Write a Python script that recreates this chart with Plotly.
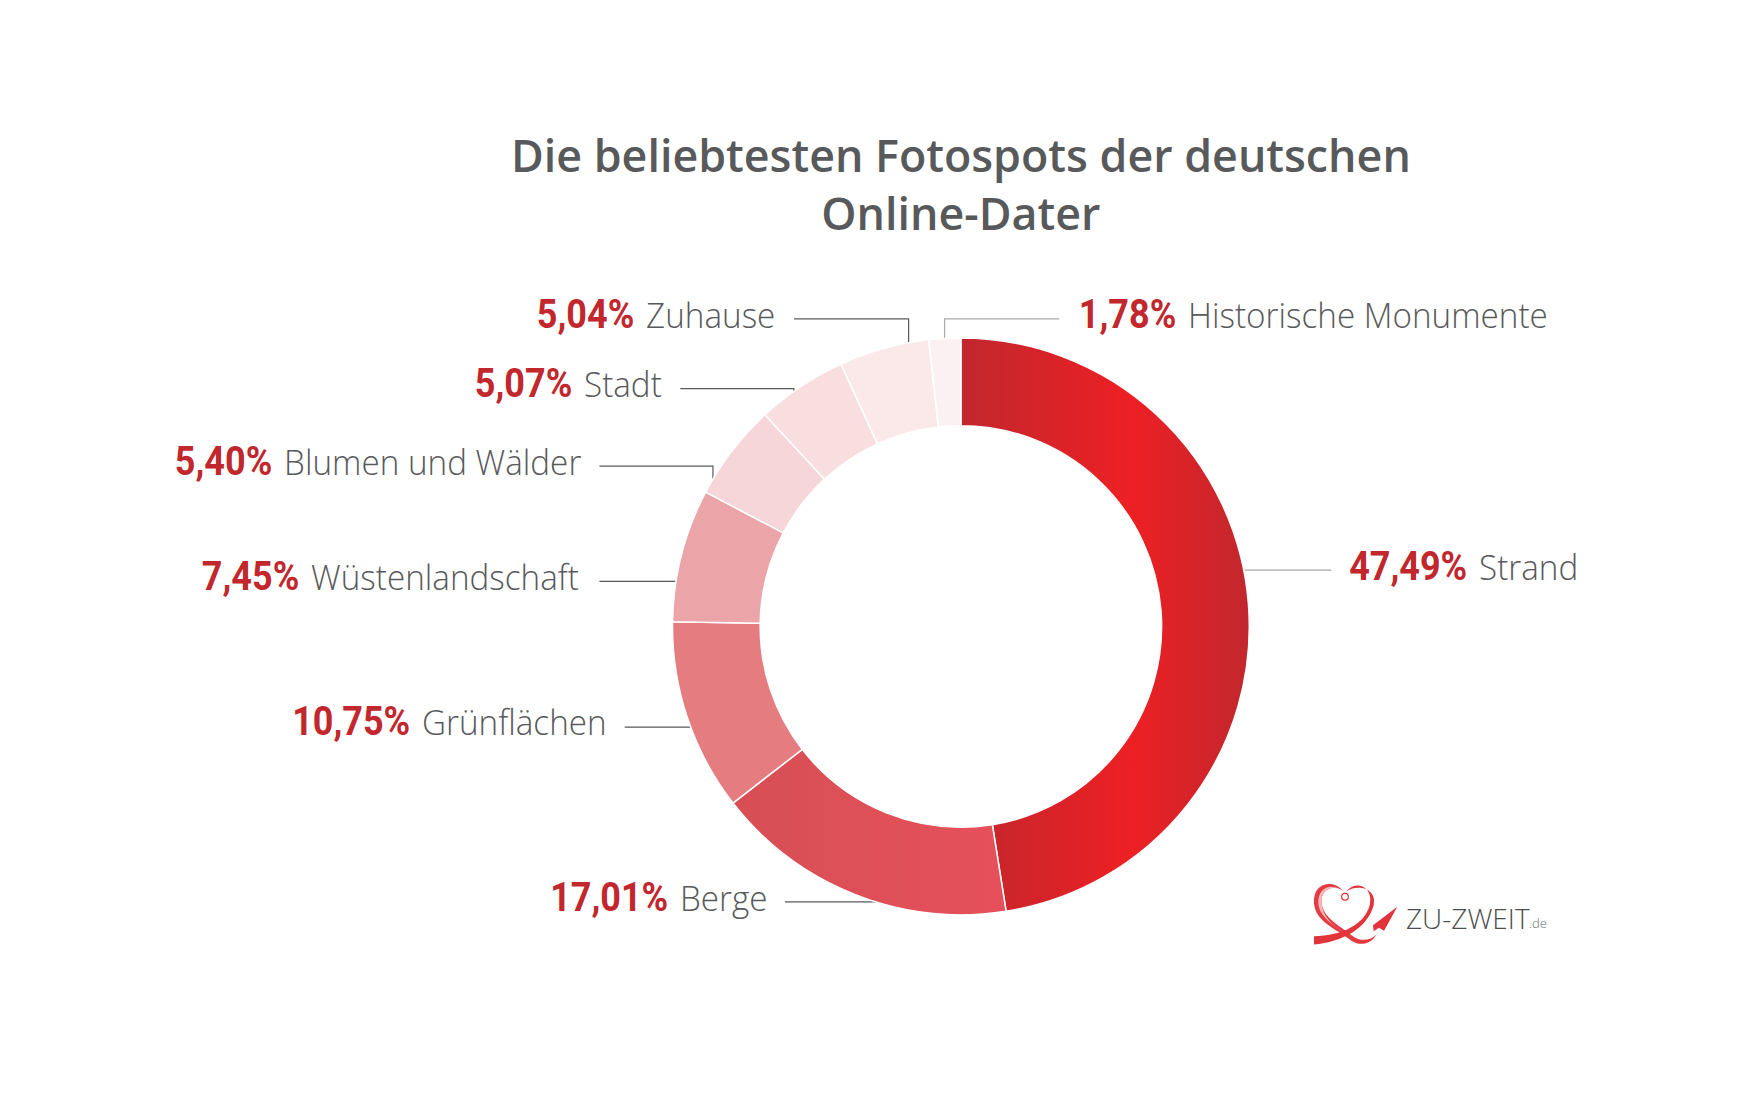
import plotly.graph_objects as go

W, H = 1754, 1096
S = W / 1560  # layout coordinates below were measured on a 1560-wide view
OX, OY = 11, 10  # page offset correction, in view units

categories = ["Strand", "Berge", "Grünflächen", "Wüstenlandschaft", "Blumen und Wälder", "Stadt", "Zuhause", "Historische Monumente"]
values = [47.49, 17.01, 10.75, 7.45, 5.40, 5.07, 5.04, 1.78]
percent_labels = ["47,49%", "17,01%", "10,75%", "7,45%", "5,40%", "5,07%", "5,04%", "1,78%"]
colors = ["#D9252A", "#E04F56", "#E57C80", "#EBA4A8", "#F6D6D9", "#F9DEE0", "#FBE9EA", "#FCF1F2"]

GREY = "#58595B"
RED = "#C1272D"

def X(p): return (p - OX) * S / W
def Y(p): return 1 - (p - OY) * S / H

label_pos = [(1312, 507), (601, 801), (371.5, 645), (273.5, 516), (249, 413), (516, 344), (571, 283), (1053, 283)]
leaders = [
    [(1109, 510), (1188, 510)],
    [(702, 805), (790, 805)],
    [(559.5, 649.5), (618, 649.5)],
    [(537, 520), (606, 520)],
    [(537, 417.5), (638, 417.5), (638, 431)],
    [(609, 348.5), (710, 348.5), (710, 352)],
    [(710, 286.5), (812, 286.5), (812, 307)],
    [(946, 286.5), (844, 286.5), (844, 304)],
]

cx, cy, r = 858.5, 560, 256.5

fig = go.Figure(go.Pie(
    labels=categories, values=values, sort=False, direction="clockwise", rotation=0,
    hole=0.696, textinfo="none", showlegend=False,
    marker=dict(colors=colors, line=dict(color="white", width=1.5)),
    domain=dict(x=[X(cx - r), X(cx + r)], y=[Y(cy + r), Y(cy - r)]),
))

annotations = []
for pct, name, (x, y) in zip(percent_labels, categories, label_pos):
    annotations.append(dict(text=pct, x=X(x - 1.5), y=Y(y), xref="paper", yref="paper", xanchor="right", yanchor="middle",
                            showarrow=False, font=dict(family="Roboto", size=40, color=RED, weight="bold")))
    annotations.append(dict(text=name, x=X(x + 5.5), y=Y(y), xref="paper", yref="paper", xanchor="left", yanchor="middle",
                            showarrow=False, font=dict(family="Open Sans", size=35, color=GREY, weight=300)))

# logo wordmark
annotations.append(dict(text="ZU-ZWEIT", x=X(1253), y=Y(819), xref="paper", yref="paper", xanchor="left", yanchor="middle",
                        showarrow=False, font=dict(family="Open Sans", size=28, color="#4D4D4F", weight=300)))
annotations.append(dict(text=".de", x=X(1362), y=Y(824), xref="paper", yref="paper", xanchor="left", yanchor="middle",
                        showarrow=False, font=dict(family="Open Sans", size=13, color="#6D6E71", weight=300)))

shapes = []
for pts in leaders:
    d = "M " + " L ".join(f"{X(a):.5f},{Y(b):.5f}" for a, b in pts)
    shapes.append(dict(type="path", path=d, xref="paper", yref="paper", layer="below",
                       line=dict(color="#A7A9AC" if pts[0][0] > cx else GREY, width=1.2)))

def LX(v): return (1250 + v / 3 - (OX - 3) * S) / W
def LY(v): return 1 - (850 + v / 3 - (OY - 3) * S) / H
def path(cmds):
    out = []
    for c in cmds:
        out.append(c[0] + " " + " ".join(f"{LX(c[i]):.5f},{LY(c[i+1]):.5f}" for i in range(1, len(c), 2)))
    return " ".join(out)

logo_parts = [
    ([("M", 285, 125), ("C", 255, 85, 190, 95, 195, 160), ("C", 200, 215, 260, 235, 305, 270),
      ("C", 330, 288, 365, 285, 383, 252), ("C", 365, 272, 335, 275, 312, 258),
      ("C", 270, 225, 225, 205, 218, 160), ("C", 212, 115, 260, 100, 285, 125), ("Z",)], "#E43A41"),
    ([("M", 285, 125), ("C", 250, 95, 205, 110, 208, 160), ("C", 212, 200, 250, 222, 280, 245),
      ("C", 255, 225, 222, 205, 218, 160), ("C", 212, 115, 260, 100, 285, 125), ("Z",)], "#F5B7BA"),
    ([("M", 195, 258), ("C", 280, 255, 345, 225, 362, 165), ("C", 375, 115, 325, 85, 290, 125),
      ("C", 325, 100, 385, 115, 374, 165), ("C", 355, 235, 280, 275, 195, 283), ("Z",)], "#E2343B"),
    ([("M", 445, 170), ("L", 372, 225), ("L", 374, 243), ("L", 390, 233), ("L", 405, 242), ("Z",)], "#E2343B"),
]
for cmds, col in logo_parts:
    shapes.append(dict(type="path", path=path(cmds), xref="paper", yref="paper", fillcolor=col, line=dict(width=0)))
shapes.append(dict(type="circle", xref="paper", yref="paper", x0=LX(278), x1=LX(298), y0=LY(150), y1=LY(130),
                   line=dict(color="#E2343B", width=1.2)))

fig.update_layout(
    width=W, height=H, margin=dict(l=0, r=0, t=0, b=0), paper_bgcolor="white",
    title=dict(text="Die beliebtesten Fotospots der deutschen<br>Online-Dater", x=X(cx), xanchor="center",
               y=Y(156), yanchor="middle", font=dict(family="Open Sans", size=44.8, color=GREY, weight=600)),
    annotations=annotations, shapes=shapes,
)

post = """
var gd = document.getElementById('{plot_id}');
var svg = gd.querySelector('svg.main-svg');
var NS = 'http://www.w3.org/2000/svg';
var defs = document.createElementNS(NS, 'defs');
function grad(id, stops) {
  var g = document.createElementNS(NS, 'linearGradient');
  g.setAttribute('id', id); g.setAttribute('x1', '0'); g.setAttribute('x2', '1'); g.setAttribute('y1', '0'); g.setAttribute('y2', '0');
  stops.forEach(function (s) {
    var e = document.createElementNS(NS, 'stop');
    e.setAttribute('offset', s[0]); e.setAttribute('stop-color', s[1]); g.appendChild(e);
  });
  defs.appendChild(g);
}
grad('gStrand', [[0, '#C1272D'], [0.59, '#ED2024'], [1, '#C1272D']]);
grad('gBerge', [[0, '#D64F55'], [1, '#E6505A']]);
svg.insertBefore(defs, svg.firstChild);
var sl = gd.querySelectorAll('.slice path.surface');
sl[0].style.fill = 'url(#gStrand)';
sl[1].style.fill = 'url(#gBerge)';
// condense label glyphs horizontally, keeping the edge next to the gap fixed
gd.querySelectorAll('.annotation').forEach(function (a) {
  var i = +a.getAttribute('data-index');
  if (i >= 16) return;
  var t = a.querySelector('.annotation-text');
  var b = t.getBBox();
  var pct = i % 2 === 0;
  var k = pct ? 0.90 : 0.95;
  var e = pct ? b.x + b.width : b.x;
  t.setAttribute('transform', 'translate(' + e + ',0) scale(' + k + ',1) translate(' + (-e) + ',0)');
});
"""

fig.write_html("out.html", post_script=post, config=dict(displayModeBar=False))
